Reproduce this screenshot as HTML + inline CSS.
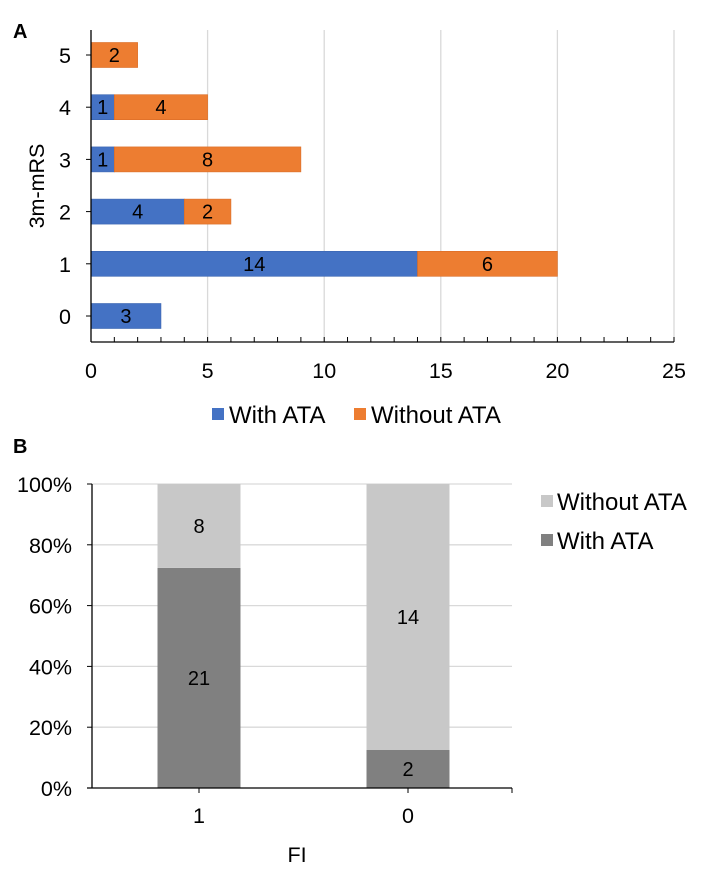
<!DOCTYPE html>
<html><head><meta charset="utf-8"><style>
body{margin:0;background:#fff;font-family:"Liberation Sans",Arial,sans-serif;}
svg text{font-family:"Liberation Sans",Arial,sans-serif;}
</style></head><body>
<svg id="c" width="709" height="878" xmlns="http://www.w3.org/2000/svg"></svg>
<script>
const aCats=["0","1","2","3","4","5"];
const aWith=[3,14,4,1,1,0];
const aWithout=[0,6,2,8,4,2];
const aTicks=[0,5,10,15,20,25];
const bCats=["1","0"];
const bWith=[21,2];
const bWithout=[8,14];
const bTicks=[0,20,40,60,80,100];

const FS=20,TS=21.5,LS=24;
const svg=document.getElementById('c');
const NS="http://www.w3.org/2000/svg";
function el(t,a,txt){const e=document.createElementNS(NS,t);for(const k in a)e.setAttribute(k,a[k]);if(txt!==undefined)e.textContent=txt;svg.appendChild(e);return e;}

// Panel A
const ax0=91,ax1=674,aMax=25,ay0=342,aTopCenter=55,aBottomCenter=316;
const xA=v=>ax0+(ax1-ax0)*v/aMax;
const yA=i=>aBottomCenter-(aBottomCenter-aTopCenter)*i/(aCats.length-1);
let t=el('text',{x:13,y:38,'font-size':20,'font-weight':'bold'},'A');

aTicks.forEach(v=>{
 if(v>0){const g=el('line',{x1:xA(v),x2:xA(v),y1:30,y2:ay0,stroke:'#d9d9d9','stroke-width':1.3});
 }
 const l=el('text',{x:xA(v),y:378,'font-size':TS,'text-anchor':'middle'},String(v));
 
});
for(let v=0;v<=aMax;v++){const k=el('line',{x1:xA(v),x2:xA(v),y1:ay0,y2:ay0-5,stroke:'#000'});
 }
aCats.forEach((c,i)=>{
 const y=yA(i),h=25;
 if(aWith[i]>0){const r=el('rect',{x:xA(0),y:y-h/2,width:xA(aWith[i])-xA(0),height:h,fill:'#4472c4',stroke:'#3a64b0','stroke-width':0.6});
  
  const tl=el('text',{x:(xA(0)+xA(aWith[i]))/2,y:y+7,'font-size':FS,'text-anchor':'middle'},String(aWith[i]));
  }
 if(aWithout[i]>0){const s=xA(aWith[i]),e=xA(aWith[i]+aWithout[i]);
  const r=el('rect',{x:s,y:y-h/2,width:e-s,height:h,fill:'#ed7d31',stroke:'#d96c25','stroke-width':0.6});
  
  const tl=el('text',{x:(s+e)/2,y:y+7,'font-size':FS,'text-anchor':'middle'},String(aWithout[i]));
  }
 const lb=el('text',{x:71,y:y+8,'font-size':TS,'text-anchor':'end'},c);
 
 const tk=el('line',{x1:ax0-5,x2:ax0,y1:y,y2:y,stroke:'#000'});
 
});
let ln=el('line',{x1:ax0,x2:ax0,y1:30,y2:ay0,stroke:'#000','stroke-width':1.3});

ln=el('line',{x1:ax0,x2:ax1,y1:ay0,y2:ay0,stroke:'#000','stroke-width':1.3});

t=el('text',{x:0,y:0,'font-size':TS,'text-anchor':'middle',transform:'translate(44,186) rotate(-90)'},'3m-mRS');

let r=el('rect',{x:212,y:408,width:12,height:12,fill:'#4472c4'});

t=el('text',{x:229,y:423,'font-size':LS},'With ATA');

r=el('rect',{x:354,y:408,width:12,height:12,fill:'#ed7d31'});

t=el('text',{x:371,y:423,'font-size':LS},'Without ATA');


// Panel B
const bx0=92,bx1=512,by0=788,by1=484;
const yB=p=>by0-(by0-by1)*p/100;
const catC=[199,408],bw=83;
t=el('text',{x:13,y:453,'font-size':20,'font-weight':'bold'},'B');

bTicks.forEach(v=>{
 if(v>0){const g=el('line',{x1:bx0,x2:bx1,y1:yB(v),y2:yB(v),stroke:'#d9d9d9','stroke-width':1.3});
 }
 const l=el('text',{x:72,y:yB(v)+8,'font-size':TS,'text-anchor':'end'},v+'%');
 
 const k=el('line',{x1:bx0-5,x2:bx0,y1:yB(v),y2:yB(v),stroke:'#000'});
 
});
bCats.forEach((c,i)=>{
 const tot=bWith[i]+bWithout[i],pw=bWith[i]/tot*100,cx=catC[i];
 let rr=el('rect',{x:cx-bw/2,y:yB(pw),width:bw,height:yB(0)-yB(pw),fill:'#808080'});
 
 rr=el('rect',{x:cx-bw/2,y:yB(100),width:bw,height:yB(pw)-yB(100),fill:'#c8c8c8'});
 
 let tl=el('text',{x:cx,y:(yB(0)+yB(pw))/2+7,'font-size':FS,'text-anchor':'middle'},String(bWith[i]));
 
 tl=el('text',{x:cx,y:(yB(pw)+yB(100))/2+7,'font-size':FS,'text-anchor':'middle'},String(bWithout[i]));
 
 tl=el('text',{x:cx,y:823,'font-size':TS,'text-anchor':'middle'},c);
 
 const tk=el('line',{x1:cx,x2:cx,y1:by0,y2:by0+5,stroke:'#000'});
 
});
ln=el('line',{x1:bx1,x2:bx1,y1:by0,y2:by0+5,stroke:'#000'});

ln=el('line',{x1:bx0,x2:bx0,y1:by1,y2:by0,stroke:'#000','stroke-width':1.3});

ln=el('line',{x1:bx0-5,x2:bx1,y1:by0,y2:by0,stroke:'#000','stroke-width':1.3});

t=el('text',{x:297,y:862,'font-size':TS,'text-anchor':'middle'},'FI');

r=el('rect',{x:541,y:495,width:12,height:12,fill:'#c8c8c8'});

t=el('text',{x:557,y:510,'font-size':LS},'Without ATA');

r=el('rect',{x:541,y:534,width:12,height:12,fill:'#808080'});

t=el('text',{x:557,y:549,'font-size':LS},'With ATA');

</script>
</body></html>
